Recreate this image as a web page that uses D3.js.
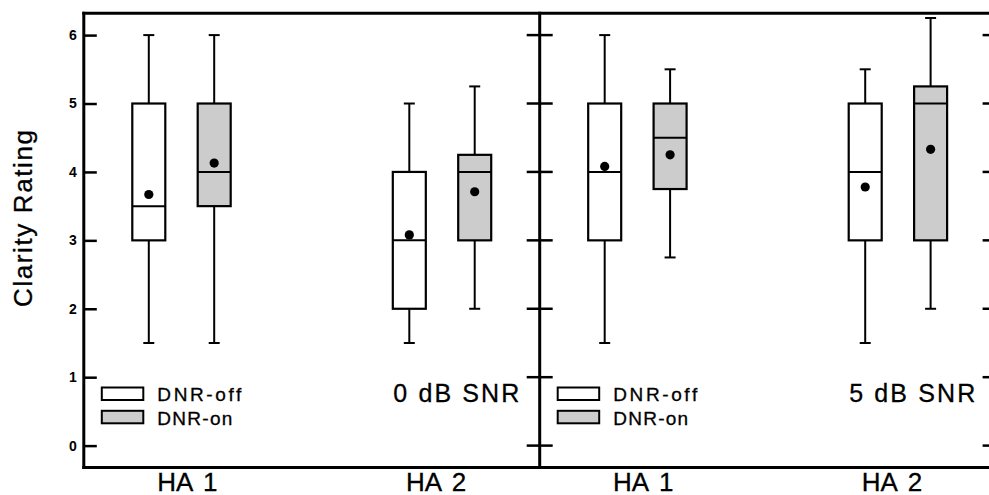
<!DOCTYPE html>
<html>
<head>
<meta charset="utf-8">
<script src="https://cdn.jsdelivr.net/npm/d3@7"></script>
<style>
  html, body { margin: 0; padding: 0; background: #fff; }
  svg { display: block; }
  text { font-family: "Liberation Sans", Arial, Helvetica, sans-serif; fill: #000; }
</style>
</head>
<body>
<svg id="chart" width="989" height="495"></svg>
<script>
// ---------- data ----------
const panels = ["0 dB SNR", "5 dB SNR"];
const groups = ["HA 1", "HA 2"];
const conditions = ["DNR-off", "DNR-on"];
const yTicks = [0, 1, 2, 3, 4, 5, 6];
const yTitle = "Clarity Rating";

// order within each panel: HA1 off, HA1 on, HA2 off, HA2 on
const boxGroup = ["HA 1", "HA 1", "HA 2", "HA 2"];
const boxCond  = ["DNR-off", "DNR-on", "DNR-off", "DNR-on"];

const snr0Min  = [1.5, 1.5, 1.5, 2.0];
const snr0Q1   = [3.0, 3.5, 2.0, 3.0];
const snr0Med  = [3.5, 4.0, 3.0, 4.0];
const snr0Q3   = [5.0, 5.0, 4.0, 4.25];
const snr0Max  = [6.0, 6.0, 5.0, 5.25];
const snr0Mean = [3.67, 4.13, 3.08, 3.71];

const snr5Min  = [1.5, 2.75, 1.5, 2.0];
const snr5Q1   = [3.0, 3.75, 3.0, 3.0];
const snr5Med  = [4.0, 4.5, 4.0, 5.0];
const snr5Q3   = [5.0, 5.0, 5.0, 5.25];
const snr5Max  = [6.0, 5.5, 5.5, 6.25];
const snr5Mean = [4.08, 4.25, 3.78, 4.33];

const panelData = [
  { min: snr0Min, q1: snr0Q1, med: snr0Med, q3: snr0Q3, max: snr0Max, mean: snr0Mean },
  { min: snr5Min, q1: snr5Q1, med: snr5Med, q3: snr5Q3, max: snr5Max, mean: snr5Mean }
];

const fills = { "DNR-off": "#ffffff", "DNR-on": "#cccccc" };

// ---------- layout ----------
const svg = d3.select("#chart");
const plotL = 83.8, plotR = 995.6, plotT = 13.2, plotB = 467.5;

const y = d3.scaleLinear().domain([-0.32, 6.32]).range([plotB, plotT]);
const xPanel = d3.scaleBand().domain(panels).range([plotL, plotR]).padding(0);
const pw = xPanel.bandwidth();
const xGroup = d3.scalePoint().domain(groups).range([0, pw]).padding(0.375);
const xLabel = d3.scalePoint().domain(groups).range([0, pw]).padding(0.4165);
const xCond = d3.scalePoint().domain(conditions).range([-32.7, 32.7]);
const boxW = 33, capW = 11;

// ---------- frame & ticks ----------
const frame = svg.append("g");
frame.append("line").attr("x1", plotL).attr("x2", plotR).attr("y1", plotT).attr("y2", plotT);
frame.append("line").attr("x1", plotL).attr("x2", plotR).attr("y1", plotB).attr("y2", plotB);
[plotL, xPanel(panels[1]), plotR].forEach(xv => {
  frame.append("line").attr("x1", xv).attr("x2", xv).attr("y1", plotT).attr("y2", plotB);
});
frame.selectAll("line").attr("stroke", "#000").attr("stroke-width", 3).attr("stroke-linecap", "square");

// left axis with labels (ticks inward)
const yAxis = d3.axisLeft(y).tickValues(yTicks).tickSize(-13).tickPadding(7).tickFormat(d3.format("d"));
const ga = svg.append("g").attr("transform", `translate(${plotL},0)`).call(yAxis);
ga.select(".domain").remove();
ga.selectAll(".tick line").attr("stroke", "#000").attr("stroke-width", 2.5);
ga.selectAll(".tick text").style("font-size", "14px").style("font-weight", "bold")
  .style("font-family", "'Liberation Sans', Arial, sans-serif").attr("fill", "#000");

// inner ticks on other vertical axes
const tickG = svg.append("g").attr("stroke", "#000").attr("stroke-width", 2.5);
const verticals = [
  { x: xPanel(panels[1]), dirs: [-1, 1] },
  { x: plotR, dirs: [-1] }
];
verticals.forEach(v => {
  v.dirs.forEach(dir => {
    tickG.selectAll(null).data(yTicks).enter().append("line")
      .attr("x1", v.x).attr("x2", v.x + dir * 13)
      .attr("y1", d => y(d)).attr("y2", d => y(d));
  });
});

// y title
svg.append("text")
  .attr("transform", "translate(32,218.5) rotate(-90)")
  .attr("text-anchor", "middle")
  .style("font-size", "26px")
  .attr("textLength", 177).attr("lengthAdjust", "spacing")
  .attr("stroke", "#000").attr("stroke-width", 0.3)
  .text(yTitle);

// ---------- panels ----------
panels.forEach((p, pi) => {
  const g = svg.append("g").attr("transform", `translate(${xPanel(p)},0)`);
  const d = panelData[pi];
  const boxes = boxGroup.map((grp, i) => ({
    grp, cond: boxCond[i], min: d.min[i], q1: d.q1[i], med: d.med[i], q3: d.q3[i], max: d.max[i], mean: d.mean[i]
  }));

  const b = g.selectAll("g.box").data(boxes).enter().append("g")
    .attr("class", "box")
    .attr("transform", dd => `translate(${xGroup(dd.grp) + xCond(dd.cond)},0)`);

  // whiskers
  b.append("line").attr("x1", 0).attr("x2", 0).attr("y1", dd => y(dd.max)).attr("y2", dd => y(dd.q3));
  b.append("line").attr("x1", 0).attr("x2", 0).attr("y1", dd => y(dd.q1)).attr("y2", dd => y(dd.min));
  b.append("line").attr("x1", -capW / 2).attr("x2", capW / 2).attr("y1", dd => y(dd.max)).attr("y2", dd => y(dd.max));
  b.append("line").attr("x1", -capW / 2).attr("x2", capW / 2).attr("y1", dd => y(dd.min)).attr("y2", dd => y(dd.min));
  b.selectAll("line").attr("stroke", "#000").attr("stroke-width", 2);

  // box
  b.append("rect")
    .attr("x", -boxW / 2).attr("width", boxW)
    .attr("y", dd => y(dd.q3)).attr("height", dd => y(dd.q1) - y(dd.q3))
    .attr("fill", dd => fills[dd.cond]).attr("stroke", "#000").attr("stroke-width", 2.2);
  // median
  b.append("line").attr("x1", -boxW / 2).attr("x2", boxW / 2)
    .attr("y1", dd => y(dd.med)).attr("y2", dd => y(dd.med))
    .attr("stroke", "#000").attr("stroke-width", 2);
  // mean
  b.append("circle").attr("cx", 0).attr("cy", dd => y(dd.mean)).attr("r", 4.6).attr("fill", "#000");

  // legend
  const lg = g.append("g");
  conditions.forEach((c, ci) => {
    const ly = 387.5 + ci * 23.3;
    lg.append("rect").attr("x", 18).attr("y", ly).attr("width", 41.5).attr("height", 12.5)
      .attr("fill", fills[c]).attr("stroke", "#000").attr("stroke-width", 2);
    lg.append("text").attr("x", 73.5).attr("y", ly + 13.8)
      .style("font-size", "19px")
      .attr("stroke", "#000").attr("stroke-width", 0.3)
      .attr("textLength", ci === 0 ? 84 : 75).attr("lengthAdjust", "spacing")
      .text(c);
  });

  // SNR label
  g.append("text").attr("x", 435.5).attr("y", 401.8).attr("text-anchor", "end")
    .style("font-size", "25px")
    .attr("stroke", "#000").attr("stroke-width", 0.3)
    .attr("textLength", 126).attr("lengthAdjust", "spacing")
    .text(p);

  // group labels
  g.selectAll("text.grp").data(groups).enter().append("text")
    .attr("class", "grp")
    .attr("x", dd => xLabel(dd)).attr("y", 490.5)
    .attr("text-anchor", "middle")
    .style("font-size", "26px")
    .style("word-spacing", "4px")
    .attr("stroke", "#000").attr("stroke-width", 0.3)
    .text(dd => dd);
});
</script>
</body>
</html>
